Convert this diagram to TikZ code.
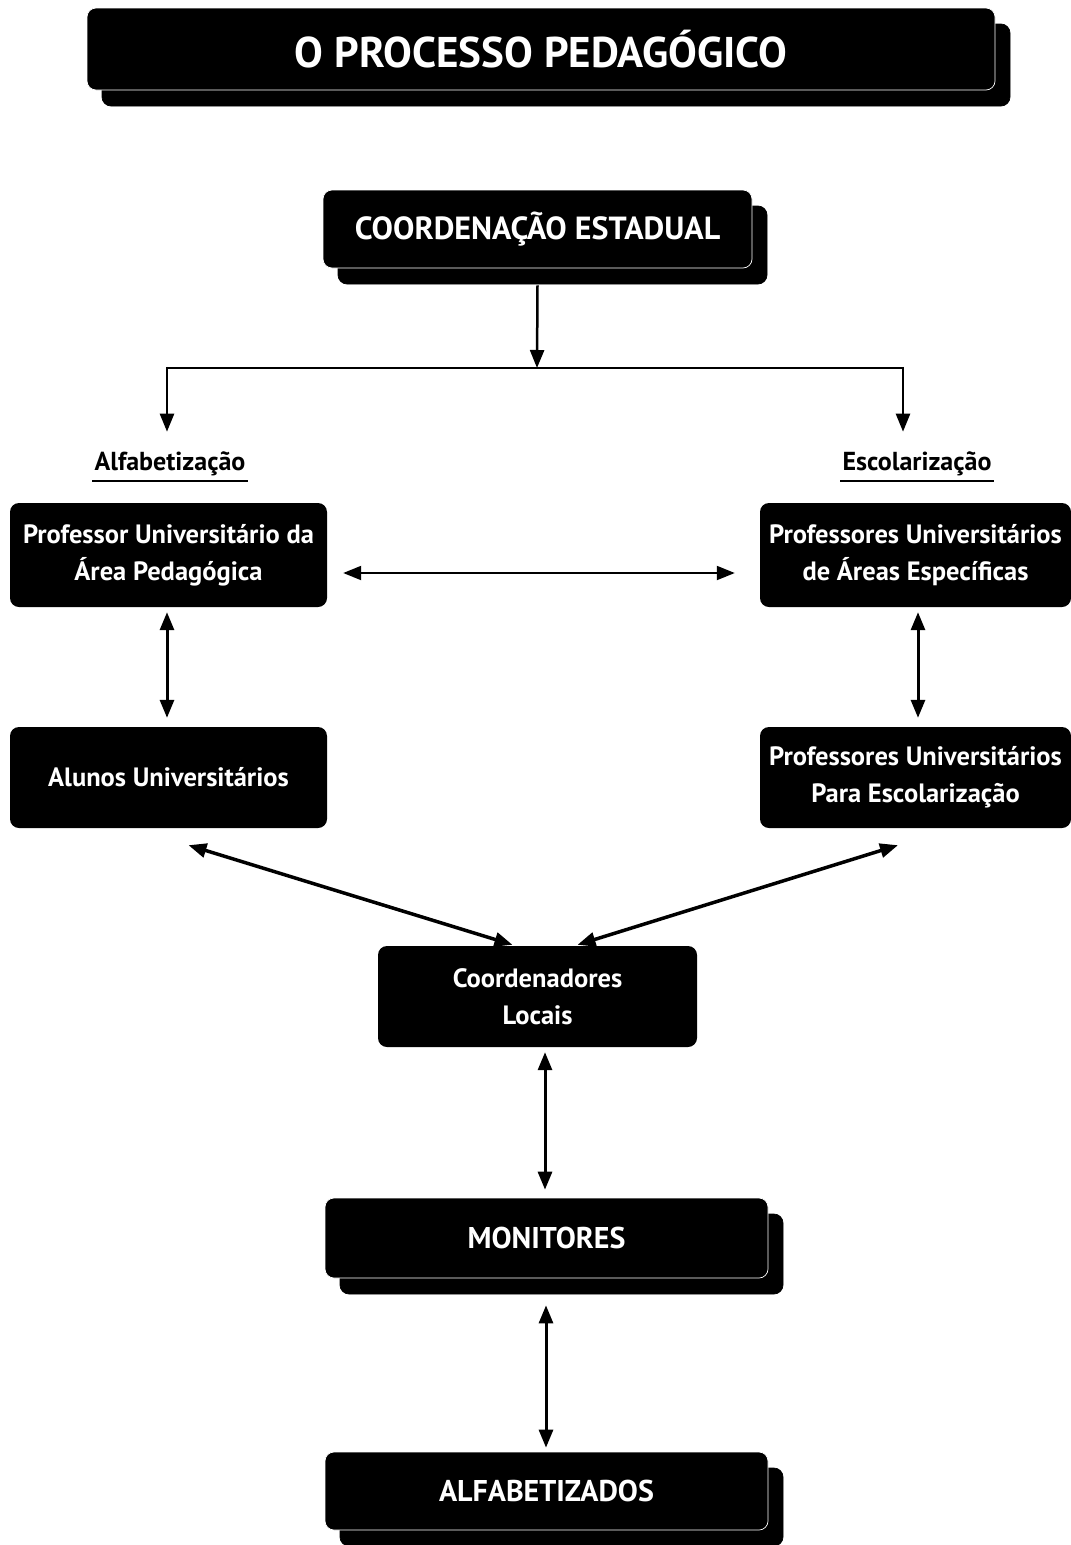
\documentclass[tikz,border=0pt]{standalone}
\usepackage{fontspec}
\setmainfont{PT Sans}
\usetikzlibrary{arrows.meta,shadows}
\begin{document}
\begin{tikzpicture}[x=1pt,y=-1pt,
  blk/.style={fill=black,text=white,rounded corners=9pt,align=center,inner sep=0pt},
  shbox/.style={blk,draw=white,line width=0.7pt,copy shadow={shadow xshift=15pt,shadow yshift=-16pt,draw=black}},
  boxtxt/.style={font=\bfseries\fontsize{26.5}{37}\selectfont},
  captxt/.style={font=\bfseries\fontsize{30}{34}\selectfont},
  lbl/.style={font=\bfseries\fontsize{26}{30}\selectfont,inner sep=2pt},
  tip/.style={-{Triangle[length=18pt,width=14pt]}},
  dtip/.style={{Triangle[length=18pt,width=14pt]}-{Triangle[length=18pt,width=14pt]}},
  ln/.style={line width=2.5pt}
]
\useasboundingbox (0,0) rectangle (1071,1545);
% title
\node[shbox,minimum width=908pt,minimum height=82pt,font=\bfseries\fontsize{43}{46}\selectfont] (title) at (541,49) {O PROCESSO PEDAGÓGICO};
% top box
\node[shbox,captxt,font=\bfseries\fontsize{32}{36}\selectfont,minimum width=429pt,minimum height=78pt] (coord) at (537.5,229) {COORDENAÇÃO ESTADUAL};
% labels
\node[lbl] (alf) at (170,464) {Alfabetização};
\node[lbl] (esc) at (917,464) {Escolarização};
\draw[line width=2pt] ([yshift=-3pt]alf.south west) -- ([yshift=-3pt]alf.south east);
\draw[line width=2pt] ([yshift=-3pt]esc.south west) -- ([yshift=-3pt]esc.south east);
% boxes
\node[blk,boxtxt,minimum width=317pt,minimum height=104pt] (pua) at (168.5,555) {Professor Universitário da\\Área Pedagógica};
\node[blk,boxtxt,minimum width=311pt,minimum height=104pt] (pue) at (915.5,555) {Professores Universitários\\de Áreas Específicas};
\node[blk,boxtxt,minimum width=317pt,minimum height=101pt] (alu) at (168.5,777.5) {Alunos Universitários};
\node[blk,boxtxt,minimum width=311pt,minimum height=101pt] (pes) at (915.5,777.5) {Professores Universitários\\Para Escolarização};
\node[blk,boxtxt,minimum width=319pt,minimum height=101pt] (cl) at (537.5,996.5) {Coordenadores\\Locais};
\node[shbox,captxt,minimum width=443pt,minimum height=80pt] (mon) at (546.5,1238) {MONITORES};
\node[shbox,captxt,minimum width=443pt,minimum height=78pt] (alfz) at (546.5,1491) {ALFABETIZADOS};
% tree
\coordinate (split) at (537,368);
\coordinate (lsplit) at (167,368);
\coordinate (rsplit) at (903,368);
\draw[ln,tip] ([yshift=-17pt]coord.south) -- (split);
\draw[ln] (lsplit) -- (rsplit);
\draw[ln,tip] ([yshift=1.25pt]lsplit) -- ([yshift=18pt]lsplit |- alf.north);
\draw[ln,tip] ([yshift=1.25pt]rsplit) -- ([yshift=18pt]rsplit |- esc.north);
% connectors
\draw[line width=2pt,dtip] ([xshift=16pt,yshift=-18pt]pua.east) -- ([xshift=-25pt,yshift=-18pt]pue.west);
\draw[line width=3pt,dtip] ([xshift=-1.5pt,yshift=-5pt]pua.south) -- ([xshift=-1.5pt,yshift=9pt]alu.north);
\draw[line width=3pt,dtip] ([xshift=2.5pt,yshift=-5pt]pue.south) -- ([xshift=2.5pt,yshift=9pt]pes.north);
\draw[line width=3.5pt,dtip] ([xshift=20pt,yshift=-17pt]alu.south) -- ([xshift=-25pt,yshift=1pt]cl.north);
\draw[line width=3.5pt,dtip] ([xshift=-17.5pt,yshift=-17pt]pes.south) -- ([xshift=40pt,yshift=1pt]cl.north);
\draw[line width=3pt,dtip] ([xshift=7.5pt,yshift=-5pt]cl.south) -- ([xshift=-1.5pt,yshift=8pt]mon.north);
\draw[line width=3pt,dtip] ([xshift=-0.5pt,yshift=-27pt]mon.south) -- ([xshift=-0.5pt,yshift=4pt]alfz.north);
\end{tikzpicture}
\end{document}
